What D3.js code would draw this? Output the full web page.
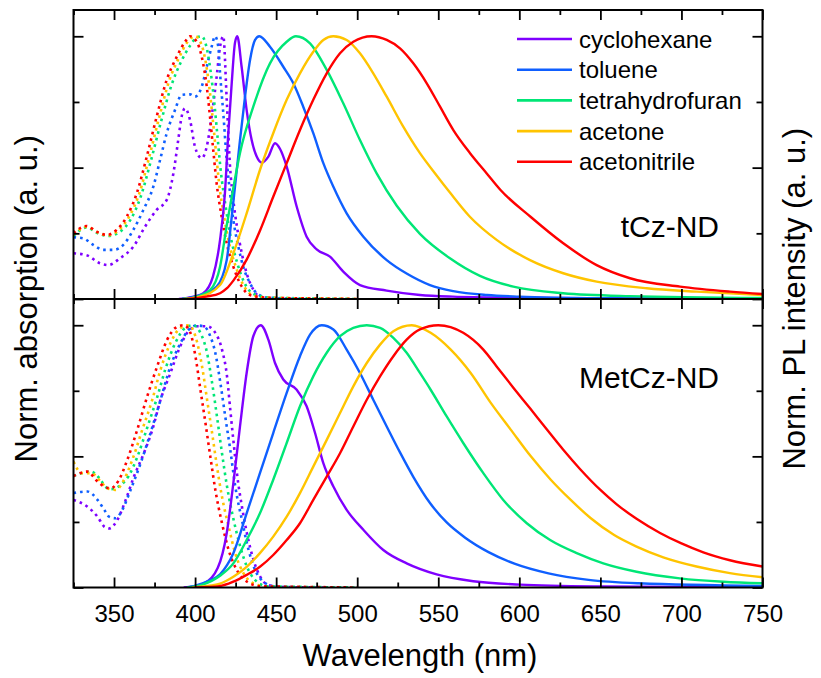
<!DOCTYPE html>
<html>
<head>
<meta charset="utf-8">
<style>
  body { margin: 0; background: #fff; }
  svg { font-family: "Liberation Sans", Arial, sans-serif; }
  .tick line { stroke: #000; stroke-width: 1.8; }
  .tick text { font-size: 24px; fill: #000; }
  .domain { display: none; }
  .frame { fill: none; stroke: #000; stroke-width: 2; }
  .pl { fill: none; stroke-width: 2.4; }
  .abs { fill: none; stroke-width: 2.6; stroke-dasharray: 2.6 4; }
  .title { font-size: 31px; }
  .panel-label { font-size: 30px; }
  .legend text { font-size: 24px; }
</style>
</head>
<body>
<svg width="821" height="678"></svg>
<script src="https://d3js.org/d3.v7.min.js"></script>
<script>
// ---- data: [wavelength nm, normalised value] ----
const solvents = ["cyclohexane", "toluene", "tetrahydrofuran", "acetone", "acetonitrile"]
const solventColors = ["#7f00ff", "#0f5fff", "#00e676", "#ffc400", "#ff0000"]
const majorTicks = [350, 400, 450, 500, 550, 600, 650, 700, 750]
const minorTicks = [325, 375, 425, 475, 525, 575, 625, 675, 725]
const panelNames = ["tCz-ND", "MetCz-ND"]

// tCz-ND absorption (dotted)
const tczAbsCyc = [[325,0.174],[333,0.167],[341.3,0.136],[346.5,0.129],[353.7,0.155],[361.9,0.199],[369.1,0.275],[376.3,0.339],[382.5,0.377],[386.6,0.478],[389.6,0.605],[391.7,0.694],[393.8,0.726],[396.9,0.681],[399.9,0.58],[404.1,0.536],[407.2,0.58],[410.2,0.694],[413.3,0.846],[415.4,0.96],[417.4,1.0],[419.5,0.76],[421.6,0.5],[423.6,0.375],[425.7,0.28],[428.8,0.174],[431.8,0.098],[436,0.035],[440,0.009],[450,0.002],[480,0]]
const tczAbsTol = [[325,0.235],[331,0.231],[337.2,0.206],[343.4,0.187],[349.6,0.187],[355.7,0.206],[361.9,0.263],[368.1,0.339],[374.2,0.427],[378.4,0.529],[382.5,0.631],[387.6,0.719],[391.7,0.777],[396.9,0.779],[399.9,0.77],[404.1,0.808],[407.2,0.884],[410.2,0.96],[412.3,1.0],[414.3,0.96],[415.4,0.859],[417.4,0.707],[419.5,0.529],[421.6,0.402],[423.6,0.301],[426.7,0.199],[429.7,0.123],[433.9,0.06],[438,0.022],[445,0.005],[470,0]]
const tczAbsThf = [[325,0.24],[333,0.272],[340,0.25],[346.5,0.24],[353.5,0.255],[360,0.3],[366.5,0.39],[372.7,0.525],[379,0.675],[385.5,0.815],[391.5,0.905],[397,0.965],[401,0.995],[404.1,1.0],[407,0.96],[409.5,0.87],[411.8,0.75],[413.8,0.62],[415.8,0.49],[418.9,0.35],[422,0.235],[426.1,0.135],[430.2,0.065],[436.4,0.018],[446.7,0.005],[475,0.002],[500,0]]
const tczAbsAce = [[325,0.245],[333.5,0.275],[339.5,0.255],[346,0.242],[352.5,0.26],[359,0.31],[365.5,0.4],[371.7,0.54],[377.8,0.69],[384,0.83],[390.2,0.92],[395.3,0.978],[400,1.0],[403.5,0.975],[406,0.92],[408.8,0.805],[410.8,0.69],[412.8,0.565],[414.8,0.44],[417.9,0.313],[421,0.212],[425.1,0.123],[429.2,0.06],[435.4,0.015],[445.7,0.005],[475,0.002],[500,0]]
const tczAbsAcn = [[325,0.251],[333.1,0.278],[339.3,0.256],[345.5,0.244],[351.6,0.263],[357.8,0.313],[364,0.402],[370.2,0.542],[376.3,0.694],[382.5,0.834],[388.7,0.922],[393.8,0.979],[396.9,1.0],[401,0.979],[404.1,0.922],[407.2,0.808],[409.2,0.694],[411.2,0.567],[413.3,0.44],[416.4,0.313],[419.5,0.212],[423.6,0.123],[427.7,0.06],[433.9,0.015],[444.2,0.005],[470,0.002],[500,0]]

// tCz-ND photoluminescence (solid)
const tczPlCyc = [[390,0],[396,0.005],[405,0.022],[411,0.085],[415.4,0.225],[418.4,0.403],[420.5,0.632],[422.6,0.822],[424.6,0.975],[426,1.0],[428.7,0.884],[431.8,0.719],[434.9,0.605],[438,0.542],[441.1,0.519],[445.2,0.542],[449.3,0.593],[452.5,0.57],[456.5,0.504],[462.7,0.351],[468.8,0.237],[475,0.189],[483.2,0.161],[491.4,0.104],[501.7,0.053],[518.2,0.032],[538.7,0.015],[559,0.009],[600,0.005],[650,0.002],[750,0]]
const tczPlTol = [[392,0],[403,0.015],[413.3,0.047],[419.5,0.148],[422.6,0.313],[424.6,0.427],[427.7,0.605],[430.8,0.77],[433.9,0.91],[437,0.986],[439.6,1.0],[446.2,0.96],[454.4,0.884],[460.6,0.821],[466.7,0.732],[472.9,0.631],[479.1,0.517],[485.3,0.427],[493.5,0.326],[503.8,0.237],[518.2,0.148],[531,0.095],[544.9,0.053],[559.3,0.03],[580,0.015],[600,0.009],[650,0.003],[750,0]]
const tczPlThf = [[392,0],[398.7,0.005],[409.2,0.034],[415.4,0.123],[419.5,0.28],[423.5,0.42],[427.7,0.556],[435.9,0.732],[446.2,0.897],[456.5,0.979],[462.2,1.0],[470.9,0.973],[481.2,0.872],[491.4,0.745],[501.7,0.605],[512,0.478],[524.4,0.355],[538.7,0.248],[557.2,0.155],[575.7,0.088],[596.3,0.047],[627,0.022],[668,0.011],[750,0.004]]
const tczPlAce = [[393,0],[403,0.009],[415.4,0.053],[423.6,0.174],[431.8,0.326],[440,0.491],[448.2,0.631],[456.5,0.758],[464.7,0.859],[472.9,0.941],[479.1,0.986],[485.3,1.0],[493.5,0.986],[501.7,0.935],[509.9,0.859],[518.2,0.77],[528.4,0.656],[538.7,0.555],[549,0.47],[557.2,0.405],[569.5,0.313],[586,0.225],[606.6,0.148],[627.1,0.098],[647.7,0.066],[678.6,0.041],[709.4,0.028],[750,0.015]]
const tczPlAcn = [[395,0],[407,0.009],[415.4,0.022],[419.5,0.04],[423.6,0.07],[431.8,0.15],[440,0.26],[448.2,0.389],[456.5,0.517],[464.7,0.643],[472.9,0.758],[481.2,0.859],[489.4,0.935],[497.6,0.979],[508.9,1.0],[518.2,0.986],[526.4,0.954],[534.6,0.897],[542.9,0.821],[551.1,0.732],[559.3,0.643],[569.6,0.555],[579.9,0.478],[588.4,0.415],[606.9,0.313],[627.1,0.212],[647.7,0.129],[668.3,0.079],[699.1,0.047],[730,0.028],[750,0.019]]

// MetCz-ND absorption (dotted)
const metAbsCyc = [[325,0.334],[333.6,0.308],[339.8,0.27],[344,0.232],[346.9,0.225],[352,0.257],[357.2,0.334],[362.3,0.423],[368.4,0.512],[373.6,0.601],[378.7,0.716],[384.8,0.818],[390,0.907],[395.1,0.971],[401.2,0.996],[407.4,0.996],[412.5,0.971],[416.6,0.907],[419.7,0.805],[421.7,0.678],[423.8,0.55],[425.8,0.436],[428.9,0.308],[432,0.206],[436.1,0.104],[440.2,0.041],[445.3,0.009],[455,0.002],[480,0]]
const metAbsTol = [[325,0.36],[333.6,0.366],[339.8,0.334],[344,0.296],[346.9,0.27],[351,0.264],[355.1,0.296],[360.2,0.372],[366.4,0.474],[372.5,0.589],[378.7,0.716],[384.8,0.843],[391,0.932],[396.1,0.983],[401.2,0.999],[405.3,0.996],[409.4,0.958],[412.5,0.894],[415.6,0.78],[418.6,0.652],[421.7,0.525],[424.8,0.385],[428.9,0.257],[433,0.143],[437.1,0.066],[442.2,0.022],[448.4,0.005],[470,0]]
const metAbsThf = [[325,0.425],[335.7,0.442],[341.8,0.41],[344.5,0.385],[348,0.375],[354,0.39],[359,0.425],[364.5,0.5],[370.5,0.61],[376.6,0.725],[381.8,0.835],[388,0.935],[394,0.99],[399,1.0],[403.3,0.971],[407.4,0.894],[410.5,0.78],[413.5,0.652],[416.6,0.512],[419.7,0.385],[423.8,0.257],[427.9,0.155],[432,0.079],[437.1,0.028],[444.3,0.005],[470,0.002],[500,0]]
const metAbsAce = [[325,0.48],[330,0.436],[336,0.436],[341.8,0.404],[345.9,0.378],[351,0.372],[356.1,0.41],[361.3,0.487],[367.4,0.601],[373.6,0.716],[378.7,0.831],[384.8,0.932],[391,0.99],[396.1,1.0],[400.2,0.958],[404.3,0.843],[407.4,0.716],[410.5,0.589],[413.5,0.461],[416.6,0.346],[420.7,0.232],[424.8,0.13],[429.9,0.054],[436.1,0.015],[445,0.003],[480,0]]
const metAbsAcn = [[325,0.425],[333.6,0.442],[339.8,0.404],[344,0.385],[348,0.378],[353,0.41],[358.2,0.487],[364.3,0.601],[370.5,0.729],[376.6,0.843],[382.8,0.945],[387.9,0.99],[393,1.0],[397.1,0.971],[400.2,0.882],[403.3,0.754],[406.4,0.627],[409.4,0.499],[412.5,0.372],[416.6,0.245],[420.7,0.143],[425.8,0.066],[432,0.022],[440.2,0.005],[470,0.002],[500,0]]

// MetCz-ND photoluminescence (solid)
const metPlCyc = [[393,0],[405.3,0.015],[414,0.075],[419.5,0.207],[423.6,0.398],[427.7,0.614],[431.8,0.818],[435.9,0.958],[440.5,1.0],[445.2,0.945],[449.3,0.856],[454.4,0.793],[462.7,0.754],[468.8,0.691],[474,0.589],[479.1,0.474],[485.3,0.385],[493.5,0.296],[503.8,0.22],[516.1,0.143],[530.5,0.092],[549,0.05],[571.6,0.024],[600.4,0.011],[650,0.004],[750,0]]
const metPlTol = [[395,0],[399.2,0.005],[409.4,0.028],[415.4,0.05],[419.7,0.085],[423.6,0.131],[431.8,0.283],[440,0.436],[448.2,0.589],[456.5,0.742],[464.7,0.882],[470.9,0.964],[478.1,1.0],[485.3,0.984],[493.5,0.907],[501.7,0.818],[509.9,0.716],[518.2,0.614],[526.4,0.515],[534.6,0.422],[544.9,0.322],[555.2,0.248],[566.6,0.19],[581,0.135],[597.4,0.09],[618,0.054],[642.7,0.029],[673.6,0.016],[750,0.006]]
const metPlThf = [[395,0],[405,0.012],[415.4,0.045],[423.6,0.092],[431.8,0.181],[440,0.283],[448.2,0.411],[456.5,0.551],[464.7,0.691],[472.9,0.805],[481.2,0.895],[489.4,0.958],[497.6,0.99],[505.9,1.0],[514.1,0.99],[522.3,0.952],[530.5,0.895],[538.7,0.818],[545.3,0.754],[555.2,0.652],[565.4,0.551],[577.8,0.436],[590.1,0.334],[604.6,0.245],[619,0.181],[635.4,0.131],[651.8,0.092],[672.3,0.06],[699,0.035],[725.8,0.022],[750,0.016]]
const metPlAce = [[398,0],[410,0.008],[415.4,0.015],[423.6,0.041],[431.8,0.079],[440,0.131],[448.2,0.194],[456.5,0.27],[464.7,0.36],[472.9,0.461],[481.2,0.563],[489.4,0.665],[497.6,0.767],[505.9,0.856],[514.1,0.926],[522.3,0.977],[533.6,1.0],[545.3,0.971],[557.7,0.907],[570,0.818],[582.4,0.704],[594.7,0.602],[607.1,0.5],[619.4,0.411],[631.7,0.334],[644.1,0.264],[658.5,0.2],[672.3,0.156],[688.8,0.115],[709.3,0.08],[729.9,0.055],[750,0.039]]
const metPlAcn = [[400,0],[415,0.005],[423.6,0.022],[431.8,0.048],[440,0.079],[448.2,0.124],[456.5,0.181],[464.7,0.245],[472.9,0.334],[481.2,0.423],[489.4,0.512],[497.6,0.614],[505.9,0.716],[514.1,0.805],[522.3,0.882],[530.5,0.945],[538.7,0.984],[550,1.0],[565.4,0.971],[577.8,0.907],[586,0.843],[596.3,0.762],[606.6,0.683],[616.9,0.603],[627.1,0.525],[637.4,0.452],[650,0.372],[659.9,0.318],[672.3,0.262],[686.8,0.208],[700,0.168],[713.5,0.134],[729.9,0.104],[750,0.08]]

// ---- layout ----
let svg = d3.select("svg")
let plotLeft = 73.5, plotRight = 762.5, plotTop = 10, plotMid = 299, plotBottom = 587.5

let x = d3.scaleLinear().domain([325, 750]).range([plotLeft, plotRight])
let yTop = d3.scaleLinear().domain([0, 1.1]).range([plotMid, plotTop])
let yBot = d3.scaleLinear().domain([0, 1.1]).range([plotBottom, plotMid])

let color = d3.scaleOrdinal().domain(solvents).range(solventColors)

let panels = [
  {name: panelNames[0], y: yTop, labelY: 237,
   abs: [tczAbsCyc, tczAbsTol, tczAbsThf, tczAbsAce, tczAbsAcn],
   pl: [tczPlCyc, tczPlTol, tczPlThf, tczPlAce, tczPlAcn]},
  {name: panelNames[1], y: yBot, labelY: 388,
   abs: [metAbsCyc, metAbsTol, metAbsThf, metAbsAce, metAbsAcn],
   pl: [metPlCyc, metPlTol, metPlThf, metPlAce, metPlAcn]}
]

panels.forEach((p, pi) => {
  let y = p.y
  let y0 = y.range()[0], y1 = y.range()[1]
  let line = d3.line()
    .x(d => x(d[0]))
    .y(d => y(d[1]))
    .curve(d3.curveMonotoneX)

  svg.append("clipPath").attr("id", "clip" + pi)
    .append("rect").attr("x", plotLeft).attr("y", y1).attr("width", plotRight - plotLeft).attr("height", y0 - y1)

  let g = svg.append("g").attr("clip-path", `url(#clip${pi})`)

  g.selectAll(".abs")
    .data(p.abs)
    .join("path")
    .attr("class", "abs")
    .attr("stroke", (d, i) => color(solvents[i]))
    .attr("d", line)

  g.selectAll(".pl")
    .data(p.pl)
    .join("path")
    .attr("class", "pl")
    .attr("stroke", (d, i) => color(solvents[i]))
    .attr("d", line)

  // inward ticks on all four sides
  let addX = (axisFn, ty, vals, size) => svg.append("g")
    .attr("transform", `translate(0,${ty})`)
    .call(axisFn(x).tickValues(vals).tickSize(size).tickSizeOuter(0).tickFormat(""))
  addX(d3.axisBottom, y0, majorTicks, -10)
  addX(d3.axisBottom, y0, minorTicks, -5)
  addX(d3.axisTop, y1, majorTicks, -10)
  addX(d3.axisTop, y1, minorTicks, -5)

  let addY = (axisFn, tx, vals, size) => svg.append("g")
    .attr("transform", `translate(${tx},0)`)
    .call(axisFn(y).tickValues(vals).tickSize(size).tickSizeOuter(0).tickFormat(""))
  addY(d3.axisLeft, plotLeft, [0, 0.5, 1], -10)
  addY(d3.axisLeft, plotLeft, [0.25, 0.75], -6)
  addY(d3.axisRight, plotRight, [0, 0.5, 1], -10)
  addY(d3.axisRight, plotRight, [0.25, 0.75], -6)

  svg.append("text")
    .attr("class", "panel-label")
    .attr("x", 719)
    .attr("y", p.labelY)
    .attr("text-anchor", "end")
    .text(p.name)
})

// labelled wavelength axis
svg.append("g")
  .attr("transform", `translate(0,${plotBottom})`)
  .call(d3.axisBottom(x).tickValues(majorTicks).tickSize(0).tickPadding(17.5).tickFormat(d3.format("d")))

// frame
svg.append("rect").attr("class", "frame")
  .attr("x", plotLeft).attr("y", plotTop).attr("width", plotRight - plotLeft).attr("height", plotBottom - plotTop)
svg.append("line").attr("class", "frame")
  .attr("x1", plotLeft).attr("x2", plotRight).attr("y1", plotMid).attr("y2", plotMid)

// titles
svg.append("text").attr("class", "title")
  .attr("x", (plotLeft + plotRight) / 2 + 2).attr("y", 666)
  .attr("text-anchor", "middle")
  .text("Wavelength (nm)")

svg.append("text").attr("class", "title")
  .attr("transform", `translate(37,${(plotTop + plotBottom) / 2}) rotate(-90)`)
  .attr("text-anchor", "middle")
  .text("Norm. absorption (a. u.)")

svg.append("text").attr("class", "title")
  .attr("transform", `translate(805,${(plotTop + plotBottom) / 2}) rotate(-90)`)
  .attr("text-anchor", "middle")
  .text("Norm. PL intensity (a. u.)")

// legend
let legend = svg.append("g").attr("class", "legend")
let rowH = 30.7
legend.selectAll("line")
  .data(solvents)
  .join("line")
  .attr("x1", 517).attr("x2", 572)
  .attr("y1", (d, i) => 39 + i * rowH)
  .attr("y2", (d, i) => 39 + i * rowH)
  .attr("stroke", d => color(d))
  .attr("stroke-width", 2.6)
legend.selectAll("text")
  .data(solvents)
  .join("text")
  .attr("x", 579)
  .attr("y", (d, i) => 39 + i * rowH + 8.5)
  .text(d => d)
</script>
</body>
</html>
